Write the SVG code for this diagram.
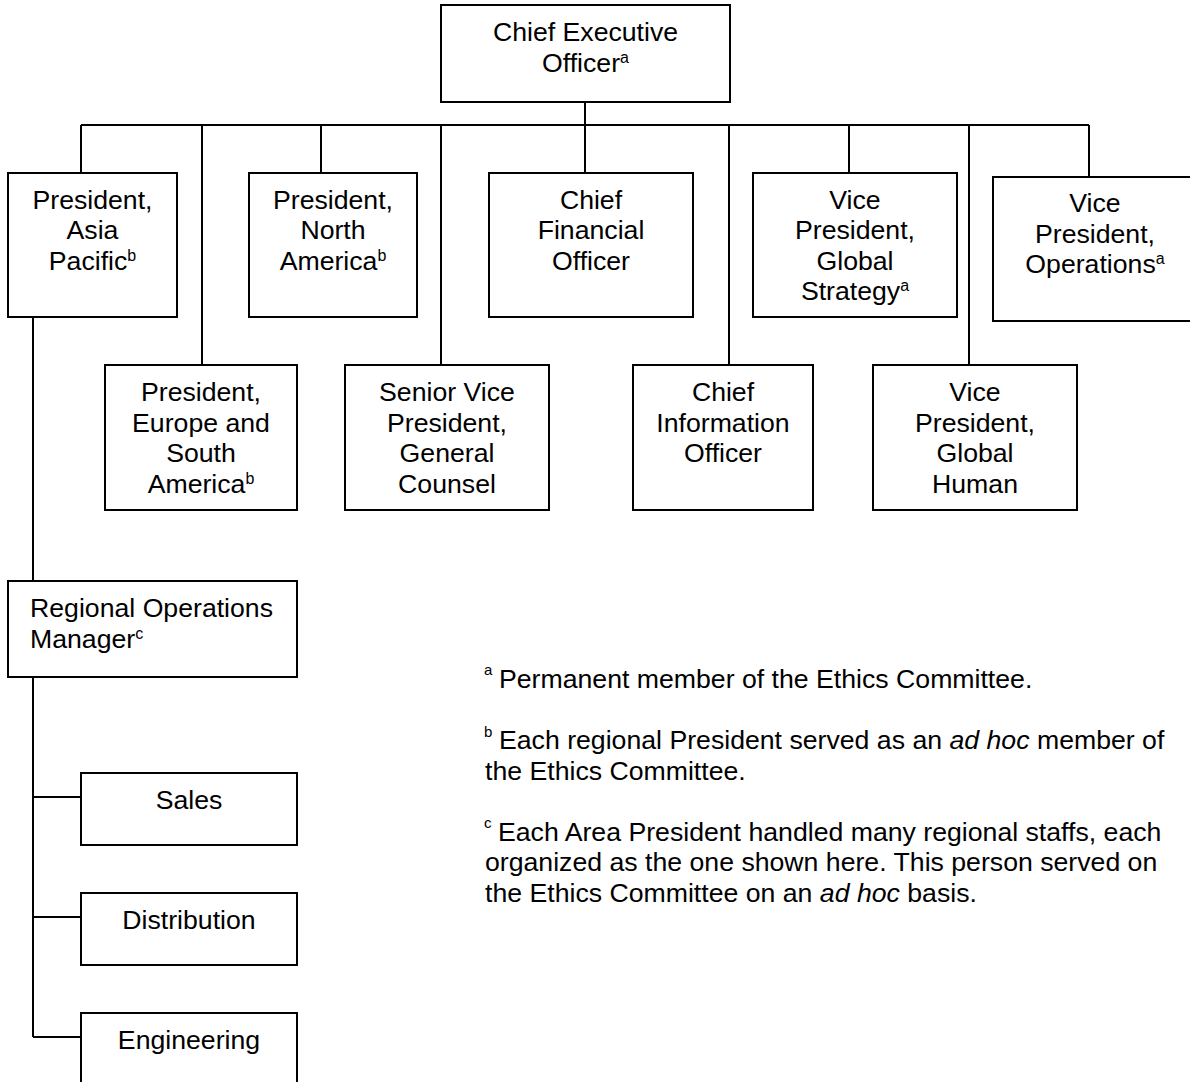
<svg xmlns="http://www.w3.org/2000/svg" width="1190" height="1082" viewBox="0 0 1190 1082">
<style>
.box{fill:#fff;stroke:#000;stroke-width:2}
.ln{fill:none;stroke:#000;stroke-width:2}
.t{font-family:"Liberation Sans",Arial,Helvetica,sans-serif;font-size:26.67px;fill:#000}
.c{text-anchor:middle}
.sup{font-size:16px}
.fsup{font-size:15px}
.i{font-style:italic}
</style>
<rect width="1190" height="1082" fill="#fff"/>
<g id="connectors">
<path class="ln" d="M585,102V173M81,125H1089M81,125V173M202,125V365M321,125V173M441,125V365M729,125V365M849,125V173M969,125V365M1089,125V177"/>
<path class="ln" d="M33,317V581M33,677V1037M33,797H81M33,917H81M33,1037H81"/>
</g>
<g id="ceo">
<rect class="box" x="441" y="5" width="289" height="97"/>
<text class="t c" x="585.5" y="41">Chief Executive</text>
<text class="t c" x="585.5" y="71.5">Officer<tspan class="sup" dy="-9">a</tspan></text>
</g>
<g id="asia">
<rect class="box" x="8" y="173" width="169" height="144"/>
<text class="t c" x="92.5" y="208.5">President,</text>
<text class="t c" x="92.5" y="239">Asia</text>
<text class="t c" x="92.5" y="269.5">Pacific<tspan class="sup" dy="-9">b</tspan></text>
</g>
<g id="na">
<rect class="box" x="249" y="173" width="168" height="144"/>
<text class="t c" x="333" y="208.5">President,</text>
<text class="t c" x="333" y="239">North</text>
<text class="t c" x="333" y="269.5">America<tspan class="sup" dy="-9">b</tspan></text>
</g>
<g id="cfo">
<rect class="box" x="489" y="173" width="204" height="144"/>
<text class="t c" x="591" y="208.5">Chief</text>
<text class="t c" x="591" y="239">Financial</text>
<text class="t c" x="591" y="269.5">Officer</text>
</g>
<g id="vpgs">
<rect class="box" x="753" y="173" width="204" height="144"/>
<text class="t c" x="855" y="208.5">Vice</text>
<text class="t c" x="855" y="239">President,</text>
<text class="t c" x="855" y="269.5">Global</text>
<text class="t c" x="855" y="300">Strategy<tspan class="sup" dy="-9">a</tspan></text>
</g>
<g id="vpops">
<rect class="box" x="993" y="177" width="204" height="144"/>
<text class="t c" x="1095" y="212">Vice</text>
<text class="t c" x="1095" y="242.5">President,</text>
<text class="t c" x="1095" y="273">Operations<tspan class="sup" dy="-9">a</tspan></text>
</g>
<g id="europe">
<rect class="box" x="105" y="365" width="192" height="145"/>
<text class="t c" x="201" y="401">President,</text>
<text class="t c" x="201" y="431.5">Europe and</text>
<text class="t c" x="201" y="462">South</text>
<text class="t c" x="201" y="492.5">America<tspan class="sup" dy="-9">b</tspan></text>
</g>
<g id="svp">
<rect class="box" x="345" y="365" width="204" height="145"/>
<text class="t c" x="447" y="401">Senior Vice</text>
<text class="t c" x="447" y="431.5">President,</text>
<text class="t c" x="447" y="462">General</text>
<text class="t c" x="447" y="492.5">Counsel</text>
</g>
<g id="cio">
<rect class="box" x="633" y="365" width="180" height="145"/>
<text class="t c" x="723" y="401">Chief</text>
<text class="t c" x="723" y="431.5">Information</text>
<text class="t c" x="723" y="462">Officer</text>
</g>
<g id="vpgh">
<rect class="box" x="873" y="365" width="204" height="145"/>
<text class="t c" x="975" y="401">Vice</text>
<text class="t c" x="975" y="431.5">President,</text>
<text class="t c" x="975" y="462">Global</text>
<text class="t c" x="975" y="492.5">Human</text>
</g>
<g id="rom">
<rect class="box" x="8" y="581" width="289" height="96"/>
<text class="t" x="30" y="617">Regional Operations</text>
<text class="t" x="30" y="647.5">Manager<tspan class="sup" dy="-9">c</tspan></text>
</g>
<g id="sales">
<rect class="box" x="81" y="773" width="216" height="72"/>
<text class="t c" x="189" y="809">Sales</text>
</g>
<g id="distribution">
<rect class="box" x="81" y="893" width="216" height="72"/>
<text class="t c" x="189" y="929">Distribution</text>
</g>
<g id="engineering">
<rect class="box" x="81" y="1013" width="216" height="80"/>
<text class="t c" x="189" y="1049">Engineering</text>
</g>
<g id="footnotes">
<text class="t fsup" x="484" y="675">a</text>
<text class="t" x="499" y="688">Permanent member of the Ethics Committee.</text>
<text class="t fsup" x="484" y="737">b</text>
<text class="t" x="499" y="749">Each regional President served as an <tspan class="i">ad hoc</tspan> member of</text>
<text class="t" x="485" y="779.5">the Ethics Committee.</text>
<text class="t fsup" x="484" y="828">c</text>
<text class="t" x="498" y="840.5">Each Area President handled many regional staffs, each</text>
<text class="t" x="485" y="871">organized as the one shown here.  This person served on</text>
<text class="t" x="485" y="901.5">the Ethics Committee on an <tspan class="i">ad hoc</tspan> basis.</text>
</g>
</svg>
